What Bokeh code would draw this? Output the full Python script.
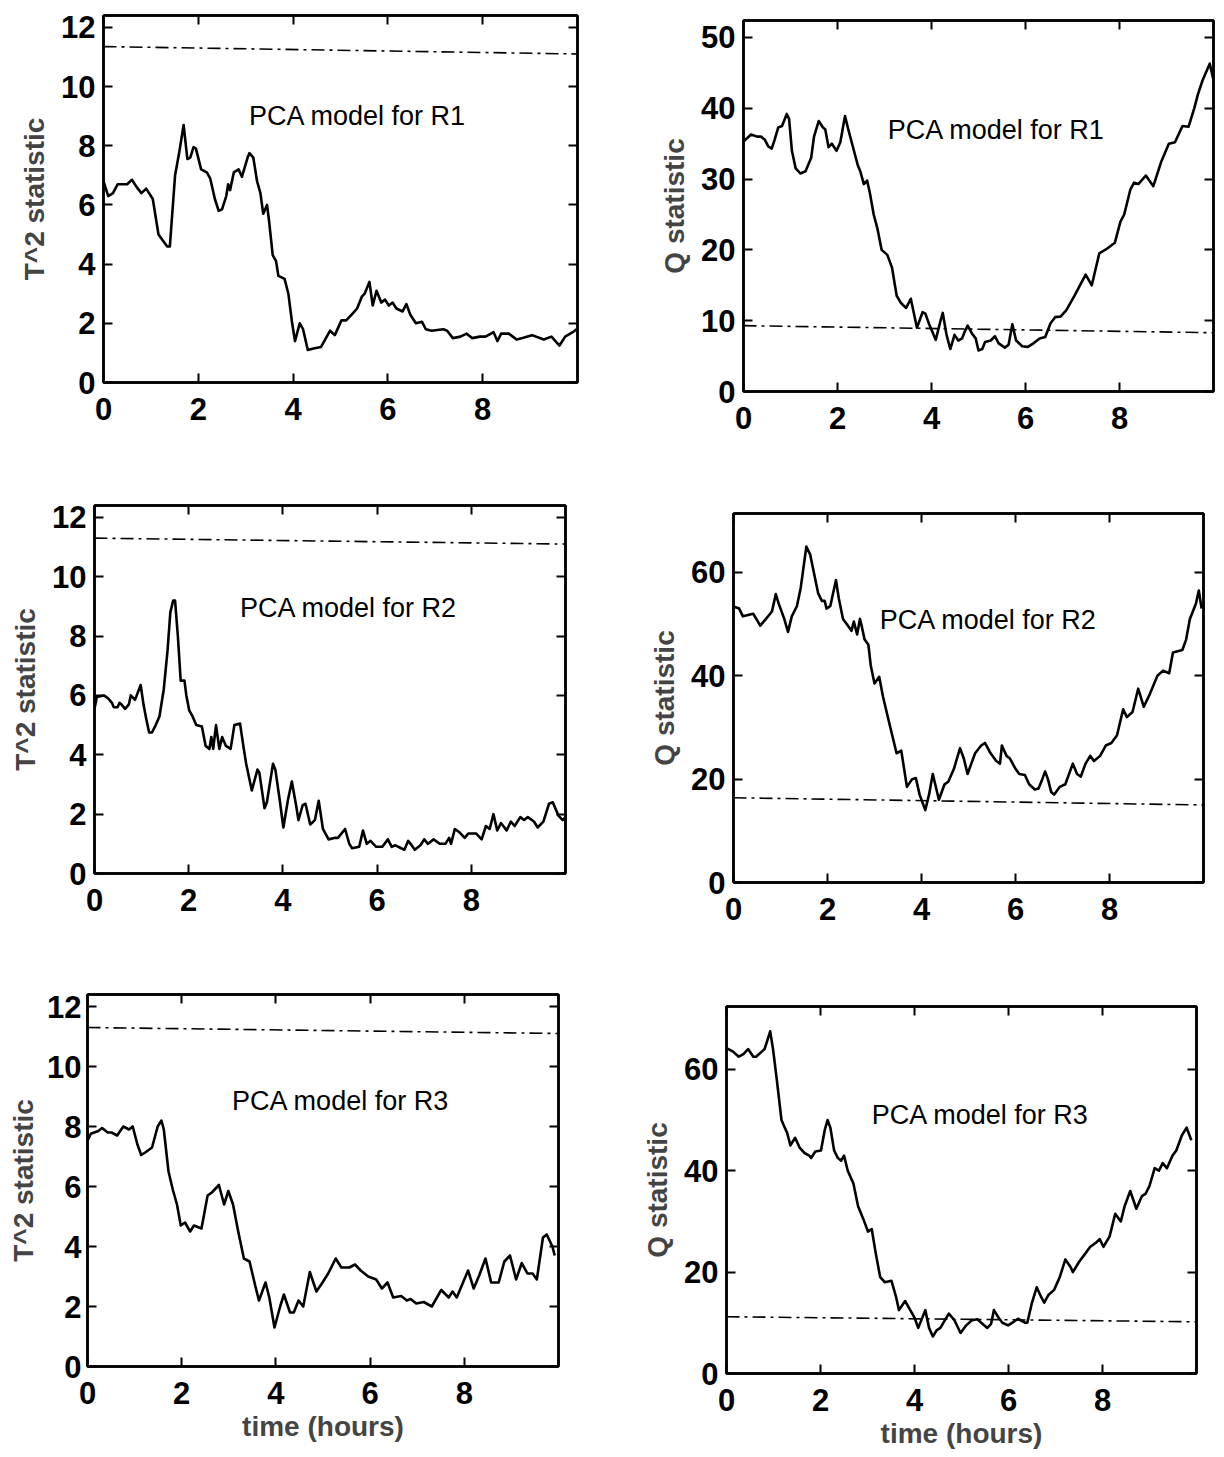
from bokeh.plotting import figure
from bokeh.layouts import row, column
from bokeh.models import Range1d, FixedTicker, LinearAxis, Label, CustomJSTickFormatter
from bokeh.embed import file_html
from bokeh.resources import INLINE

# ---------------- data (time in hours, statistic values) ----------------
x_ticks = [0, 2, 4, 6, 8]
t2_ticks = [0, 2, 4, 6, 8, 10, 12]
q1_ticks = [0, 10, 20, 30, 40, 50]
q23_ticks = [0, 20, 40, 60]

limit_x = [0, 10]
t2_limit_r1 = [11.35, 11.1]
t2_limit_r2 = [11.3, 11.1]
t2_limit_r3 = [11.3, 11.1]
q_limit_r1 = [9.3, 8.3]
q_limit_r2 = [16.4, 15.0]
q_limit_r3 = [11.2, 10.2]

t2_r1 = [(0, 6.8), (0.1, 6.3), (0.2, 6.4), (0.3, 6.7), (0.4, 6.7), (0.5, 6.7), (0.6, 6.85), (0.7, 6.6),
         (0.8, 6.4), (0.9, 6.55), (1.0, 6.3), (1.04, 6.2), (1.16, 5.0), (1.34, 4.6), (1.4, 4.6), (1.51, 7.0),
         (1.6, 7.8), (1.69, 8.7), (1.77, 7.55), (1.83, 7.6), (1.9, 7.95), (1.95, 7.9), (2.06, 7.2), (2.18, 7.1),
         (2.25, 6.9), (2.35, 6.2), (2.43, 5.8), (2.5, 5.85), (2.59, 6.3), (2.63, 6.7), (2.67, 6.5), (2.75, 7.1),
         (2.85, 7.2), (2.92, 6.95), (3.04, 7.6), (3.08, 7.75), (3.16, 7.6), (3.24, 6.8), (3.31, 6.4), (3.37, 5.7),
         (3.45, 6.0), (3.49, 5.5), (3.57, 4.3), (3.64, 4.1), (3.69, 3.6), (3.82, 3.5), (3.9, 3.0), (3.98, 2.0),
         (4.04, 1.4), (4.14, 2.0), (4.21, 1.8), (4.31, 1.1), (4.43, 1.15), (4.59, 1.2), (4.71, 1.55), (4.78, 1.75),
         (4.88, 1.6), (5.02, 2.1), (5.12, 2.1), (5.24, 2.3), (5.35, 2.5), (5.45, 2.9), (5.51, 3.0), (5.61, 3.4),
         (5.68, 2.6), (5.76, 3.1), (5.86, 2.7), (5.94, 2.8), (6.02, 2.6), (6.1, 2.7), (6.18, 2.5), (6.31, 2.4),
         (6.39, 2.65), (6.47, 2.3), (6.59, 2.0), (6.72, 2.05), (6.8, 1.8), (6.92, 1.75), (7.17, 1.8), (7.25, 1.75),
         (7.37, 1.5), (7.53, 1.55), (7.66, 1.65), (7.78, 1.5), (7.94, 1.55), (8.06, 1.55), (8.23, 1.7), (8.31, 1.4),
         (8.39, 1.65), (8.55, 1.65), (8.72, 1.45), (8.84, 1.5), (9.04, 1.6), (9.29, 1.45), (9.45, 1.55), (9.62, 1.25),
         (9.74, 1.55), (9.9, 1.7), (9.98, 1.8)]

q_r1 = [(0, 35.3), (0.16, 36.3), (0.29, 36.0), (0.37, 36.0), (0.45, 35.6), (0.53, 34.6), (0.6, 34.3), (0.66, 35.5),
        (0.74, 37.3), (0.82, 37.5), (0.92, 39.2), (0.97, 38.5), (1.03, 34), (1.11, 31.5), (1.21, 30.8), (1.32, 31.1),
        (1.44, 33), (1.5, 36), (1.6, 38.2), (1.69, 37.3), (1.74, 37), (1.81, 34.5), (1.88, 35), (1.98, 34),
        (2.06, 35.2), (2.16, 38.9), (2.23, 37), (2.35, 34), (2.43, 32), (2.49, 31), (2.56, 29.3), (2.63, 29.8),
        (2.69, 28), (2.77, 25), (2.85, 23), (2.94, 20), (3.06, 19.3), (3.16, 17.5), (3.26, 13.5), (3.35, 12.5),
        (3.46, 11.8), (3.56, 13.1), (3.69, 9.0), (3.81, 11.2), (3.87, 11.0), (3.95, 9.5), (4.09, 7.3), (4.2, 10.2),
        (4.24, 11.1), (4.32, 8), (4.4, 6), (4.49, 8), (4.57, 7.2), (4.65, 7.5), (4.71, 8.5), (4.77, 9.3),
        (4.86, 8.2), (4.94, 7.5), (5.0, 5.8), (5.08, 6), (5.14, 7.0), (5.26, 7.2), (5.35, 7.8), (5.43, 6.8),
        (5.56, 6.2), (5.64, 6.6), (5.72, 9.5), (5.8, 7.2), (5.93, 6.4), (6.05, 6.3), (6.17, 6.8), (6.3, 7.5),
        (6.42, 7.7), (6.53, 9.6), (6.63, 10.5), (6.75, 10.6), (6.87, 11.5), (7.04, 13.5), (7.28, 16.5), (7.41, 15),
        (7.57, 19.5), (7.74, 20.2), (7.9, 21), (8.02, 24), (8.1, 25), (8.23, 28.5), (8.31, 29.5), (8.4, 29.3),
        (8.56, 30.5), (8.72, 29), (8.89, 32.5), (9.05, 35), (9.18, 35.2), (9.34, 37.5), (9.47, 37.4), (9.59, 40),
        (9.67, 42), (9.77, 44), (9.92, 46.3), (10, 44)]

t2_r2 = [(0, 5.55), (0.05, 5.95), (0.2, 6.0), (0.29, 5.9), (0.37, 5.75), (0.41, 5.6), (0.49, 5.6), (0.53, 5.75),
         (0.57, 5.7), (0.65, 5.55), (0.73, 5.7), (0.77, 6.0), (0.86, 5.85), (0.98, 6.35), (1.04, 5.7), (1.1, 5.2),
         (1.16, 4.75), (1.22, 4.75), (1.3, 5.0), (1.38, 5.3), (1.47, 6.2), (1.55, 7.5), (1.61, 8.8), (1.67, 9.2),
         (1.71, 9.2), (1.77, 8.0), (1.83, 6.5), (1.91, 6.5), (1.95, 6.0), (2.01, 5.5), (2.08, 5.3), (2.16, 5.0),
         (2.28, 4.95), (2.36, 4.3), (2.44, 4.2), (2.48, 4.6), (2.52, 4.2), (2.58, 5.0), (2.65, 4.2), (2.71, 4.6),
         (2.79, 4.3), (2.89, 4.2), (2.97, 5.0), (3.09, 5.05), (3.16, 4.3), (3.22, 3.7), (3.34, 2.8), (3.46, 3.5),
         (3.5, 3.4), (3.61, 2.2), (3.66, 2.4), (3.79, 3.7), (3.84, 3.5), (3.93, 2.5), (4.01, 1.55), (4.11, 2.5),
         (4.19, 3.1), (4.28, 2.3), (4.33, 1.8), (4.42, 2.3), (4.48, 2.35), (4.58, 1.65), (4.68, 1.8), (4.76, 2.45),
         (4.85, 1.5), (4.97, 1.15), (5.09, 1.2), (5.17, 1.2), (5.32, 1.5), (5.41, 1.0), (5.47, 0.85), (5.62, 0.9),
         (5.7, 1.45), (5.78, 1.0), (5.86, 1.1), (5.98, 0.9), (6.11, 0.9), (6.23, 1.15), (6.31, 0.9), (6.39, 0.95),
         (6.51, 0.85), (6.58, 0.8), (6.66, 1.1), (6.71, 1.0), (6.8, 0.8), (6.92, 0.95), (7.0, 1.15), (7.08, 1.0),
         (7.2, 1.15), (7.33, 1.0), (7.45, 1.0), (7.53, 1.2), (7.57, 1.0), (7.65, 1.5), (7.74, 1.4), (7.86, 1.2),
         (7.94, 1.35), (8.1, 1.35), (8.22, 1.15), (8.31, 1.6), (8.39, 1.5), (8.47, 2.0), (8.55, 1.45), (8.63, 1.7),
         (8.75, 1.45), (8.84, 1.75), (8.92, 1.6), (9.04, 1.9), (9.12, 1.8), (9.2, 1.9), (9.33, 1.75), (9.41, 1.55),
         (9.53, 1.75), (9.65, 2.35), (9.73, 2.4), (9.85, 1.95), (9.94, 1.8), (10, 1.9)]

q_r2 = [(0, 53.4), (0.12, 53), (0.2, 51.5), (0.33, 51.8), (0.42, 52), (0.57, 49.7), (0.69, 51), (0.78, 52),
        (0.82, 52.5), (0.9, 55.8), (0.96, 54), (1.08, 51), (1.16, 48.5), (1.24, 51.5), (1.35, 53.5), (1.43, 57),
        (1.49, 61), (1.55, 65), (1.63, 63.5), (1.71, 60), (1.8, 56), (1.88, 54.5), (1.94, 54.5), (1.98, 53),
        (2.06, 53.5), (2.12, 56), (2.18, 58.5), (2.24, 55), (2.33, 51), (2.45, 49.5), (2.51, 48.7), (2.56, 50.5),
        (2.63, 48), (2.69, 51), (2.73, 49.5), (2.79, 47), (2.87, 46), (2.92, 42), (3.0, 38.5), (3.1, 39.8),
        (3.18, 36), (3.31, 31), (3.39, 28), (3.47, 25), (3.57, 25.5), (3.69, 18.5), (3.8, 20), (3.88, 20.2),
        (3.96, 17), (4.08, 14), (4.16, 17), (4.24, 21), (4.37, 16), (4.49, 19), (4.57, 19.5), (4.69, 22),
        (4.82, 26), (4.9, 24), (4.98, 21), (5.06, 23), (5.14, 25), (5.27, 26.5), (5.35, 27), (5.47, 25),
        (5.59, 23.5), (5.67, 23), (5.71, 26.5), (5.81, 24.5), (5.88, 24), (6.0, 22), (6.08, 21), (6.2, 20.8),
        (6.29, 19), (6.41, 18), (6.49, 18.2), (6.57, 20), (6.63, 21.5), (6.69, 20), (6.76, 17.5), (6.82, 17),
        (6.94, 18.5), (7.06, 19), (7.22, 23), (7.31, 21), (7.39, 20.5), (7.49, 23), (7.59, 24.5), (7.67, 23.5),
        (7.8, 24.5), (7.92, 26.5), (8.04, 27), (8.16, 28.5), (8.29, 33.5), (8.37, 32), (8.49, 33), (8.61, 37.5),
        (8.73, 34), (8.86, 36.5), (9.02, 40), (9.14, 41), (9.27, 40.5), (9.35, 44.5), (9.55, 45), (9.63, 47),
        (9.71, 51), (9.84, 54), (9.9, 56.5), (9.96, 53)]

t2_r3 = [(0, 7.53), (0.07, 7.76), (0.23, 7.85), (0.31, 7.95), (0.43, 7.8), (0.51, 7.8), (0.63, 7.7), (0.76, 8.0),
         (0.88, 7.9), (0.96, 8.0), (1.06, 7.4), (1.14, 7.05), (1.24, 7.15), (1.37, 7.3), (1.49, 8.0), (1.57, 8.2),
         (1.62, 7.9), (1.72, 6.5), (1.81, 5.9), (1.9, 5.4), (1.98, 4.7), (2.07, 4.8), (2.18, 4.5), (2.26, 4.7),
         (2.42, 4.6), (2.55, 5.7), (2.64, 5.8), (2.79, 6.05), (2.9, 5.4), (2.99, 5.85), (3.09, 5.4), (3.2, 4.5),
         (3.32, 3.6), (3.44, 3.5), (3.56, 2.7), (3.64, 2.2), (3.78, 2.8), (3.86, 2.3), (3.97, 1.3), (4.09, 2.0),
         (4.17, 2.4), (4.3, 1.8), (4.38, 1.8), (4.48, 2.2), (4.58, 2.0), (4.72, 3.15), (4.86, 2.5), (4.99, 2.8),
         (5.11, 3.1), (5.27, 3.6), (5.39, 3.3), (5.56, 3.3), (5.68, 3.4), (5.8, 3.2), (5.96, 3.0), (6.13, 2.9),
         (6.25, 2.6), (6.37, 2.8), (6.49, 2.3), (6.66, 2.35), (6.78, 2.2), (6.86, 2.25), (6.98, 2.1), (7.14, 2.15),
         (7.31, 2.0), (7.51, 2.55), (7.67, 2.3), (7.75, 2.5), (7.84, 2.3), (8.08, 3.2), (8.2, 2.6), (8.32, 3.05),
         (8.45, 3.6), (8.57, 2.8), (8.73, 2.8), (8.85, 3.5), (8.97, 3.7), (9.1, 2.9), (9.22, 3.45), (9.34, 3.1),
         (9.45, 3.1), (9.54, 2.9), (9.67, 4.3), (9.75, 4.4), (9.87, 4.0), (9.92, 3.7)]

q_r3 = [(0, 64.2), (0.14, 63.5), (0.26, 62.5), (0.36, 63), (0.46, 64), (0.57, 62.5), (0.63, 62.5), (0.75, 63.5),
        (0.81, 64), (0.93, 67.5), (0.99, 64), (1.07, 58), (1.17, 50), (1.24, 48.5), (1.29, 47.5), (1.36, 45),
        (1.46, 46.5), (1.56, 44.5), (1.66, 43.5), (1.76, 43), (1.8, 42.5), (1.89, 43.8), (2.01, 44), (2.09, 48),
        (2.15, 50), (2.21, 48.5), (2.29, 44), (2.37, 42.5), (2.44, 42), (2.5, 43), (2.58, 40), (2.7, 37.5),
        (2.8, 33), (2.91, 30.5), (3.01, 28), (3.09, 28.5), (3.17, 24), (3.27, 19), (3.37, 18), (3.51, 18.3),
        (3.61, 15), (3.67, 12.5), (3.8, 14.3), (3.88, 13), (4.0, 11), (4.08, 9), (4.23, 12.5), (4.31, 9),
        (4.39, 7.3), (4.47, 8.5), (4.55, 9), (4.73, 11.8), (4.85, 10.5), (4.98, 8), (5.1, 9.5), (5.22, 10.5),
        (5.34, 10.7), (5.42, 10), (5.55, 9), (5.63, 9.8), (5.69, 12.5), (5.79, 11), (5.87, 10), (5.99, 9.5),
        (6.11, 10.2), (6.2, 10.8), (6.36, 10), (6.4, 10), (6.5, 14), (6.6, 17), (6.7, 15), (6.76, 14),
        (6.85, 15.5), (6.97, 16.5), (7.09, 19), (7.21, 22.5), (7.32, 21), (7.37, 20), (7.5, 22), (7.62, 23.5),
        (7.74, 25), (7.86, 25.8), (7.94, 26.5), (8.02, 25), (8.15, 27), (8.27, 31.5), (8.39, 30), (8.47, 33),
        (8.59, 36), (8.72, 32.5), (8.84, 35), (8.92, 35.5), (9.0, 37), (9.11, 40.5), (9.2, 40), (9.28, 41.5),
        (9.37, 40.5), (9.49, 43), (9.57, 44), (9.69, 47), (9.79, 48.5), (9.89, 46)]

# ---------------- styling ----------------
FONT = "Liberation Sans"
TICK_SIZE = "31px"
LABEL_SIZE = "28px"
ANNOT_SIZE = "27px"


def style_axis(ax, ticks, show_labels=True):
    ax.ticker = FixedTicker(ticks=ticks)
    ax.major_tick_in = 9
    ax.major_tick_out = 0
    ax.minor_tick_line_color = None
    ax.major_tick_line_color = "black"
    ax.major_tick_line_width = 2
    ax.axis_line_color = "black"
    ax.axis_line_width = 2.5
    if show_labels:
        ax.major_label_text_font = FONT
        ax.major_label_text_font_style = "bold"
        ax.major_label_text_font_size = TICK_SIZE
        ax.major_label_text_color = "black"
    else:
        ax.formatter = CustomJSTickFormatter(code="return ''")
        ax.major_label_standoff = 0
        ax.major_label_text_font_size = "1px"


def make_panel(pairs, limit_vals, ymax, yticks, ylabel, annot, ax_, ay_,
               W, H, bl, bt, fw, fh, y_stand=8, ylab_stand=8, xlabel=None):
    p = figure(width=W, height=H, x_range=Range1d(0, 10), y_range=Range1d(0, ymax),
               output_backend="svg", toolbar_location=None,
               min_border_left=bl, min_border_top=bt,
               min_border_right=W - bl - fw, min_border_bottom=H - bt - fh)
    p.grid.visible = False
    p.outline_line_color = "black"
    p.outline_line_width = 2.5
    p.background_fill_color = "white"
    p.border_fill_color = "white"

    style_axis(p.xaxis[0], x_ticks)
    p.xaxis[0].major_label_standoff = 15
    style_axis(p.yaxis[0], yticks)
    p.yaxis[0].major_label_standoff = y_stand
    p.yaxis[0].axis_label = ylabel
    p.yaxis[0].axis_label_text_font = FONT
    p.yaxis[0].axis_label_text_font_style = "bold"
    p.yaxis[0].axis_label_text_font_size = LABEL_SIZE
    p.yaxis[0].axis_label_standoff = ylab_stand
    if xlabel:
        p.xaxis[0].axis_label = xlabel
        p.xaxis[0].axis_label_text_font = FONT
        p.xaxis[0].axis_label_text_font_style = "bold"
        p.xaxis[0].axis_label_text_font_size = LABEL_SIZE
        p.xaxis[0].axis_label_standoff = 4

    top = LinearAxis()
    style_axis(top, x_ticks, show_labels=False)
    p.add_layout(top, "above")
    right = LinearAxis()
    style_axis(right, yticks, show_labels=False)
    p.add_layout(right, "right")

    xs = [a for a, b in pairs]
    ys = [b for a, b in pairs]
    p.line(xs, ys, line_color="black", line_width=2.6, line_join="round")
    p.line(limit_x, limit_vals, line_color="black", line_width=1.6, line_dash="13 5 3 5")

    p.add_layout(Label(x=ax_, y=ay_, text=annot, text_font=FONT, text_font_size=ANNOT_SIZE,
                       text_color="black", text_baseline="middle", text_align="left"))
    return p


# figure origins: left column x=0, right column x=628; rows at y=0, 470, 960
p1 = make_panel(t2_r1, t2_limit_r1, 12.4, t2_ticks, "T^2 statistic", "PCA model for R1", 3.07, 9.0,
                W=628, H=470, bl=103, bt=15, fw=474, fh=367)
p2 = make_panel(q_r1, q_limit_r1, 52.4, q1_ticks, "Q statistic", "PCA model for R1", 3.07, 37.0,
                W=588, H=470, bl=115, bt=20, fw=470, fh=371)
p3 = make_panel(t2_r2, t2_limit_r2, 12.4, t2_ticks, "T^2 statistic", "PCA model for R2", 3.09, 8.95,
                W=628, H=490, bl=94, bt=35, fw=471, fh=368)
p4 = make_panel(q_r2, q_limit_r2, 71.4, q23_ticks, "Q statistic", "PCA model for R2", 3.11, 50.8,
                W=588, H=490, bl=105, bt=43, fw=470, fh=369)
p5 = make_panel(t2_r3, t2_limit_r3, 12.4, t2_ticks, "T^2 statistic", "PCA model for R3", 3.07, 8.86,
                W=628, H=492, bl=87, bt=34, fw=471, fh=372, y_stand=6, ylab_stand=5, xlabel="time (hours)")
p6 = make_panel(q_r3, q_limit_r3, 72.4, q23_ticks, "Q statistic", "PCA model for R3", 3.09, 51.0,
                W=588, H=492, bl=98, bt=46, fw=470, fh=367, xlabel="time (hours)")

layout = column(row(column(p1), column(p2)), row(column(p3), column(p4)), row(column(p5), column(p6)))

open("out.html", "w").write(file_html(layout, INLINE))
